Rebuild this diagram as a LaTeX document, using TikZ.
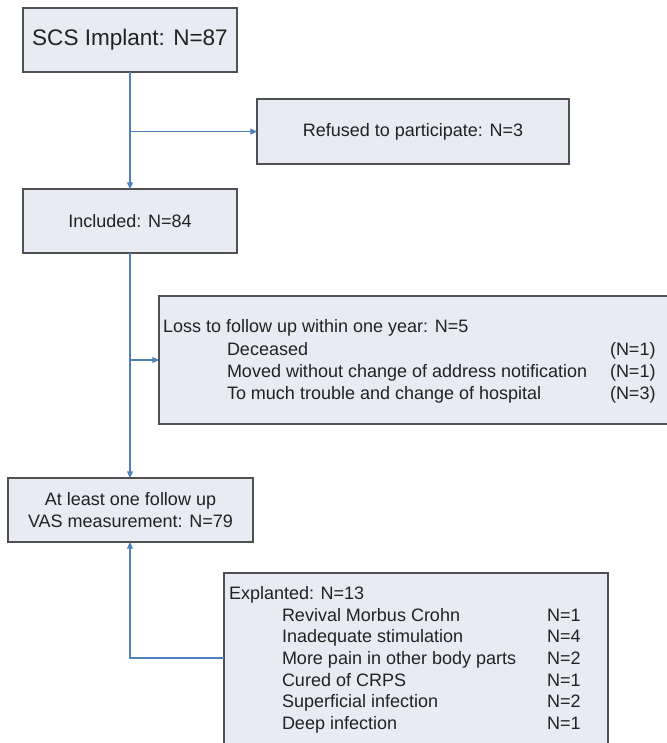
\documentclass[tikz,border=0pt]{standalone}
\usepackage{fontspec}
\setmainfont{Liberation Sans}
\usetikzlibrary{arrows.meta}
\definecolor{boxfill}{HTML}{E8EBF4}
\definecolor{boxline}{HTML}{505050}
\definecolor{conn}{HTML}{4F81BD}
\definecolor{txt}{HTML}{222222}
\begin{document}
\begin{tikzpicture}[x=0.75pt,y=-0.75pt,
  box/.style={draw=boxline,line width=1.3pt,fill=boxfill,inner sep=0pt,outer sep=0pt,
    text=txt,font=\fontsize{13.5}{16.5}\selectfont},
  conn/.style={draw=conn,line width=0.9pt,-{Triangle[length=5pt,width=4.5pt]}},
  plain/.style={draw=conn,line width=0.9pt},
  lbl/.style={anchor=base west,inner sep=0pt,outer sep=0pt,text=txt,font=\fontsize{13.5}{16.5}\selectfont}]
\useasboundingbox (0,0) rectangle (667,743);
\clip (0,0) rectangle (667,743);
\fill[white] (0,0) rectangle (667,743);

% boxes
\node[box,minimum width=160.5pt,minimum height=48pt,font=\fontsize{16.9}{20}\selectfont] (scs) at (130,40) {SCS Implant: N=87};
\node[box,minimum width=234pt,minimum height=48.75pt] (ref) at (413,131.5) {Refused to participate: N=3};
\node[box,minimum width=160.5pt,minimum height=48pt] (inc) at (130,221) {Included: N=84};
\node[box,minimum width=387pt,minimum height=96pt] (loss) at (417,360) {};
\node[box,minimum width=183.75pt,minimum height=48pt,align=center] (vas) at (130.5,510) {At least one follow up\\VAS measurement: N=79};
\node[box,minimum width=288pt,minimum height=140.25pt] (exp) at (416,666.5) {};

% loss text
\node[lbl] (l0) at (163,332) {Loss to follow up within one year: N=5};
\node[lbl] (l1) at (227,355) {Deceased};
\node[lbl] (l2) at (227,377) {Moved without change of address notification};
\node[lbl] (l3) at (227,399) {To much trouble and change of hospital};
\node[lbl] (n1) at (610,355) {(N=1)};
\node[lbl] (n2) at (610,377) {(N=1)};
\node[lbl] (n3) at (610,399) {(N=3)};

% explanted text
\node[lbl] (e0) at (229,599) {Explanted: N=13};
\node[lbl] (e1) at (282,621) {Revival Morbus Crohn};
\node[lbl] (e2) at (282,642.7) {Inadequate stimulation};
\node[lbl] (e3) at (282,664.4) {More pain in other body parts};
\node[lbl] (e4) at (282,686.1) {Cured of CRPS};
\node[lbl] (e5) at (282,707.8) {Superficial infection};
\node[lbl] (e6) at (282,729.5) {Deep infection};
\node[lbl] (m1) at (547,621) {N=1};
\node[lbl] (m2) at (547,642.7) {N=4};
\node[lbl] (m3) at (547,664.4) {N=2};
\node[lbl] (m4) at (547,686.1) {N=1};
\node[lbl] (m5) at (547,707.8) {N=2};
\node[lbl] (m6) at (547,729.5) {N=1};

% connectors
\coordinate (b1) at (130,131.5);
\coordinate (b2) at (130,360);
\coordinate (ej) at (224,658);
\draw[conn] (scs.south) -- (inc.north);
\draw[conn] (b1) -- (ref.west);
\draw[conn] (inc.south) -- (vas.north -| inc.south);
\draw[conn] (b2) -- (loss.west);
\draw[conn] (ej) -| (vas.south -| inc.south);
\end{tikzpicture}
\end{document}
